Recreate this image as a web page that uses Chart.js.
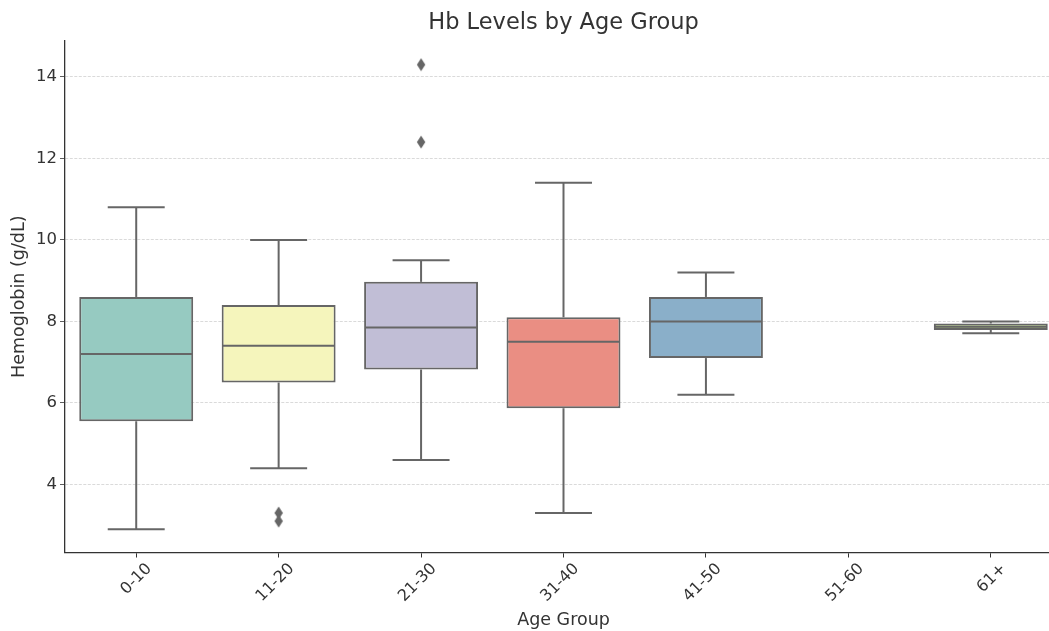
<!DOCTYPE html>
<html>
<head>
<meta charset="utf-8">
<script src="https://cdn.jsdelivr.net/npm/chart.js@4/dist/chart.umd.min.js"></script>
<style>
  html, body { margin: 0; padding: 0; background: #fff; overflow: hidden; }
  #wrap { width: 1069px; height: 631px; }
</style>
</head>
<body>
<div id="wrap"><canvas id="box-chart" width="1069" height="631"></canvas></div>
<script>
// values
const ageGroups = ['0-10', '11-20', '21-30', '31-40', '41-50', '51-60', '61+'];
const whiskerLow = [2.9, 4.4, 4.6, 3.3, 6.2, null, 7.71];
const quartile1 = [5.55, 6.5, 6.82, 5.87, 7.1, null, 7.79];
const medians = [7.2, 7.4, 7.85, 7.5, 8.0, null, 7.87];
const quartile3 = [8.6, 8.4, 8.97, 8.1, 8.6, null, 7.95];
const whiskerHigh = [10.8, 10.0, 9.5, 11.4, 9.2, null, 8.0];
const outlierGroups = ['11-20', '11-20', '21-30', '21-30'];
const outlierValues = [3.3, 3.1, 14.3, 12.4];
const yTicks = [4, 6, 8, 10, 12, 14];

const boxColors = ['#96cac1', '#f5f5bc', '#c1bed6', '#ea8e83', '#8aafc9', '#f2b46f', '#afcf78'];
const lineGray = '#666666';
const fontFamily = '"DejaVu Sans", sans-serif';

// thin diamond marker like matplotlib 'd'
const diamond = document.createElement('canvas');
diamond.width = 10;
diamond.height = 14;
(() => {
  const c = diamond.getContext('2d');
  c.fillStyle = lineGray;
  c.beginPath();
  c.moveTo(5, 0.5);
  c.lineTo(9.2, 7);
  c.lineTo(5, 13.5);
  c.lineTo(0.8, 7);
  c.closePath();
  c.fill();
})();

const whiskerPlugin = {
  id: 'whiskers',
  afterDatasetsDraw(chart) {
    const { ctx, scales: { x, y } } = chart;
    const meta = chart.getDatasetMeta(0);
    ctx.save();
    ctx.strokeStyle = lineGray;
    ctx.lineWidth = 2;
    ctx.lineCap = 'butt';
    const line = (x1, y1, x2, y2) => {
      ctx.beginPath();
      ctx.moveTo(x1, y1);
      ctx.lineTo(x2, y2);
      ctx.stroke();
    };
    ageGroups.forEach((g, i) => {
      if (medians[i] == null) return;
      const cx = x.getPixelForValue(i);
      const half = meta.data[i].width / 2;
      const capHalf = half / 2;
      const yHi = y.getPixelForValue(whiskerHigh[i]);
      const yLo = y.getPixelForValue(whiskerLow[i]);
      // whiskers
      line(cx, y.getPixelForValue(quartile3[i]), cx, yHi);
      line(cx, y.getPixelForValue(quartile1[i]), cx, yLo);
      // caps
      line(cx - capHalf, yHi, cx + capHalf, yHi);
      line(cx - capHalf, yLo, cx + capHalf, yLo);
      // median
      const yMed = y.getPixelForValue(medians[i]);
      line(cx - half + 1, yMed, cx + half - 1, yMed);
    });
    ctx.restore();
  }
};

new Chart(document.getElementById('box-chart'), {
  type: 'bar',
  data: {
    labels: ageGroups,
    datasets: [
      {
        type: 'bar',
        data: ageGroups.map((g, i) => (quartile1[i] == null ? null : [quartile1[i], quartile3[i]])),
        backgroundColor: boxColors,
        borderColor: lineGray,
        borderWidth: 2,
        borderSkipped: false,
        barPercentage: 0.8,
        categoryPercentage: 1.0,
        order: 2
      },
      {
        type: 'line',
        data: outlierGroups.map((g, i) => ({ x: g, y: outlierValues[i] })),
        showLine: false,
        pointStyle: diamond,
        pointRadius: 6,
        order: 1
      }
    ]
  },
  options: {
    responsive: false,
    animation: false,
    layout: { padding: 0 },
    plugins: {
      legend: { display: false },
      tooltip: { enabled: false },
      title: {
        display: true,
        fullSize: false,
        text: 'Hb Levels by Age Group',
        color: '#333',
        font: { family: fontFamily, size: 22.5, weight: 'normal' },
        padding: { top: 9.5, bottom: 4.5 }
      }
    },
    scales: {
      x: {
        type: 'category',
        offset: true,
        afterFit(scale) {
          scale.height = 78.5;
          scale.paddingLeft = 0;
          scale.paddingRight = 0;
        },
        grid: { drawOnChartArea: false, offset: false, color: '#333', tickLength: 5 },
        border: { color: '#333', width: 1.3 },
        ticks: {
          color: '#333',
          font: { family: fontFamily, size: 16 },
          minRotation: 45,
          maxRotation: 45,
          labelOffset: 13,
          padding: 2
        },
        title: {
          display: true,
          text: 'Age Group',
          color: '#333',
          font: { family: fontFamily, size: 17.5 },
          padding: { top: 0, bottom: 0 }
        }
      },
      y: {
        min: 2.33,
        max: 14.88,
        afterBuildTicks(scale) { scale.ticks = yTicks.map(v => ({ value: v })); },
        afterFit(scale) { scale.width = 65; },
        grid: {
          color: '#d0d0d0',
          lineWidth: 0.8,
          tickColor: '#333',
          tickBorderDash: [],
          tickLength: 5
        },
        border: { color: '#333', width: 1.3, dash: [3, 1.5] },
        ticks: {
          color: '#333',
          font: { family: fontFamily, size: 16.5 },
          padding: 3
        },
        title: {
          display: true,
          text: 'Hemoglobin (g/dL)',
          color: '#333',
          font: { family: fontFamily, size: 17.5 },
          padding: { top: 9, bottom: 0 }
        }
      }
    }
  },
  plugins: [whiskerPlugin]
});
</script>
</body>
</html>
